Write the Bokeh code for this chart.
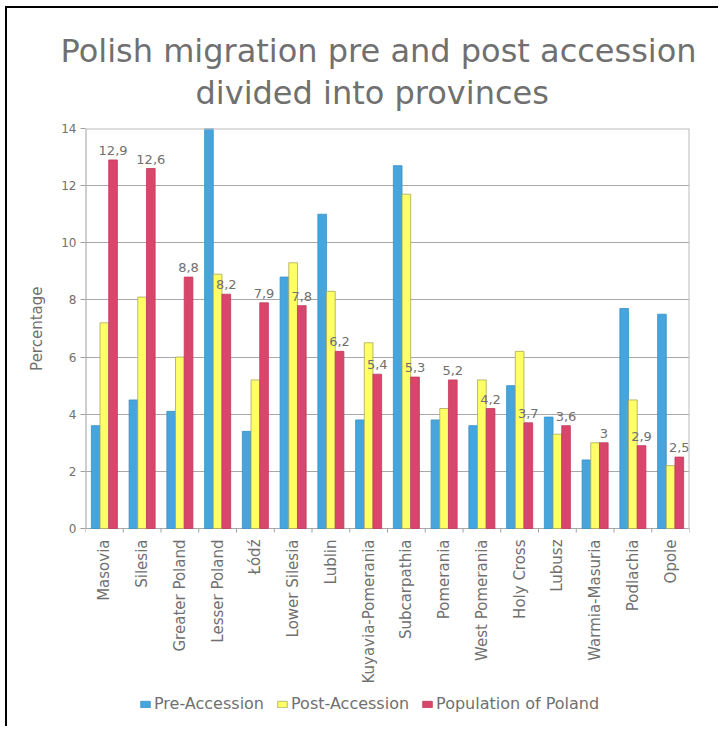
import math
from bokeh.plotting import figure
from bokeh.models import (ColumnDataSource, FixedTicker, Legend, LegendItem, Title)
from bokeh.transform import dodge
from bokeh.core.properties import value
from bokeh.embed import file_html
from bokeh.resources import INLINE

provinces = ["Masovia", "Silesia", "Greater Poland", "Lesser Poland", "Łódź",
             "Lower Silesia", "Lublin", "Kuyavia-Pomerania", "Subcarpathia",
             "Pomerania", "West Pomerania", "Holy Cross", "Lubusz",
             "Warmia-Masuria", "Podlachia", "Opole"]
pre_accession = [3.6, 4.5, 4.1, 14.0, 3.4, 8.8, 11.0, 3.8, 12.7, 3.8, 3.6, 5.0, 3.9, 2.4, 7.7, 7.5]
post_accession = [7.2, 8.1, 6.0, 8.9, 5.2, 9.3, 8.3, 6.5, 11.7, 4.2, 5.2, 6.2, 3.3, 3.0, 4.5, 2.2]
population = [12.9, 12.6, 8.8, 8.2, 7.9, 7.8, 6.2, 5.4, 5.3, 5.2, 4.2, 3.7, 3.6, 3.0, 2.9, 2.5]
y_ticks = [0, 2, 4, 6, 8, 10, 12, 14]

title_lines = ["Polish migration pre and post accession", "divided into provinces"]
y_title = "Percentage"
series_names = ["Pre-Accession", "Post-Accession", "Population of Poland"]
fills = ["#45A5DC", "#FFFF66", "#D9466C"]
edges = ["#3A90C8", "#A8A858", "#C23A5C"]


def fmt(v):
    s = ("%.1f" % v).replace(".", ",")
    return s[:-2] if s.endswith(",0") else s


n = len(provinces)
idx = list(range(n))
src = ColumnDataSource(dict(x=idx, name=provinces, pre=pre_accession, post=post_accession,
                            pop=population, lab=[fmt(v) for v in population],
                            zero=[y_ticks[0]] * n))

FONT = "DejaVu Sans"
GRAY = "#707070"
AXIS = "#A0A0A0"
W = 0.23

# the frame extends below the value axis to hold the category labels and legend
PLOT_H = 400          # pixels for 0..14
EXTRA_H = 194         # pixels below zero for labels + legend
y_top = y_ticks[-1]
y_bottom = -y_top * EXTRA_H / PLOT_H

p = figure(title=None, frame_width=604, frame_height=PLOT_H + EXTRA_H,
           x_range=(-0.5, n - 0.5), y_range=(y_bottom, y_top),
           x_axis_location=None,
           output_backend="svg", toolbar_location=None,
           min_border_left=78, min_border_right=29, min_border_top=120,
           min_border_bottom=4, background_fill_color="white",
           border_fill_color="white", outline_line_color=None)
p.styles = {"margin-left": "5px", "margin-top": "6px",
            "border-top": "2px solid black", "border-left": "2px solid black"}

bars = []
for col, off, fc, lc in zip(["pre", "post", "pop"], [-W, 0, W], fills, edges):
    bars.append(p.vbar(x=dodge("x", off, range=p.x_range), top=col, width=W, source=src,
                       fill_color=fc, line_color=lc, line_width=0.8))

# value labels on the population bars
p.text(x=dodge("x", W, range=p.x_range), y="pop", text="lab", source=src,
       text_align="center", text_baseline="bottom", y_offset=-5,
       text_font=value(FONT), text_font_size="13px", text_color=GRAY)

# category labels (rotated) under the zero line
p.text(x="x", y="zero", text="name", source=src, angle=math.pi / 2,
       text_align="right", text_baseline="middle", y_offset=11,
       text_font=value(FONT), text_font_size="15px", text_color=GRAY)

# small ticks between categories
bounds = [i - 0.5 for i in range(n + 1)]
tick_len = y_top * 4 / PLOT_H
p.segment(x0=bounds, y0=[y_ticks[0]] * len(bounds), x1=bounds,
          y1=[y_ticks[0] - tick_len] * len(bounds), line_color=AXIS, line_width=1)

# value axis line and the frame's right / top edges (only over 0..14)
x_lo, x_hi = -0.5, n - 0.5
p.segment(x0=[x_lo], y0=[y_ticks[0]], x1=[x_lo], y1=[y_top], line_color=AXIS, line_width=2)
p.segment(x0=[x_hi], y0=[y_ticks[0]], x1=[x_hi], y1=[y_top], line_color="#BBBBBB", line_width=2)
p.segment(x0=[x_lo], y0=[y_top], x1=[x_hi], y1=[y_top], line_color="#BBBBBB", line_width=2)

p.yaxis.ticker = FixedTicker(ticks=y_ticks)
p.yaxis.minor_tick_line_color = None
p.yaxis.major_tick_out = 5
p.yaxis.major_tick_in = 0
p.yaxis.major_tick_line_color = AXIS
p.yaxis.axis_line_color = None
p.yaxis.major_label_standoff = 4
p.yaxis.major_label_text_font = FONT
p.yaxis.major_label_text_font_size = "12px"
p.yaxis.major_label_text_color = GRAY

for g in p.grid:
    if g.dimension == 0:
        g.visible = False
    else:
        g.grid_line_color = "#A8A8A8"

p.add_layout(Title(text=y_title, align="right", offset=158, vertical_align="bottom",
                   standoff=25, text_font=FONT, text_font_size="15px",
                   text_font_style="normal", text_color=GRAY), "left")

# two-line title: second line closest to the frame, added first
for txt, off, so in zip(reversed(title_lines), [110, -25], [34, -30]):
    p.add_layout(Title(text=txt, align="left", offset=off, standoff=so,
                       text_font=FONT, text_font_size="32px",
                       text_font_style="normal", text_color=GRAY), "above")

legend = Legend(items=[LegendItem(label=s, renderers=[b]) for s, b in zip(series_names, bars)],
                location=(54, 9), orientation="horizontal", border_line_color=None,
                background_fill_alpha=0, padding=0, margin=0, spacing=12,
                label_standoff=3, glyph_width=12, glyph_height=8, label_height=8,
                label_text_font=FONT, label_text_font_size="16px", label_text_color=GRAY)
p.add_layout(legend)

open("out.html", "w").write(file_html(p, INLINE))
